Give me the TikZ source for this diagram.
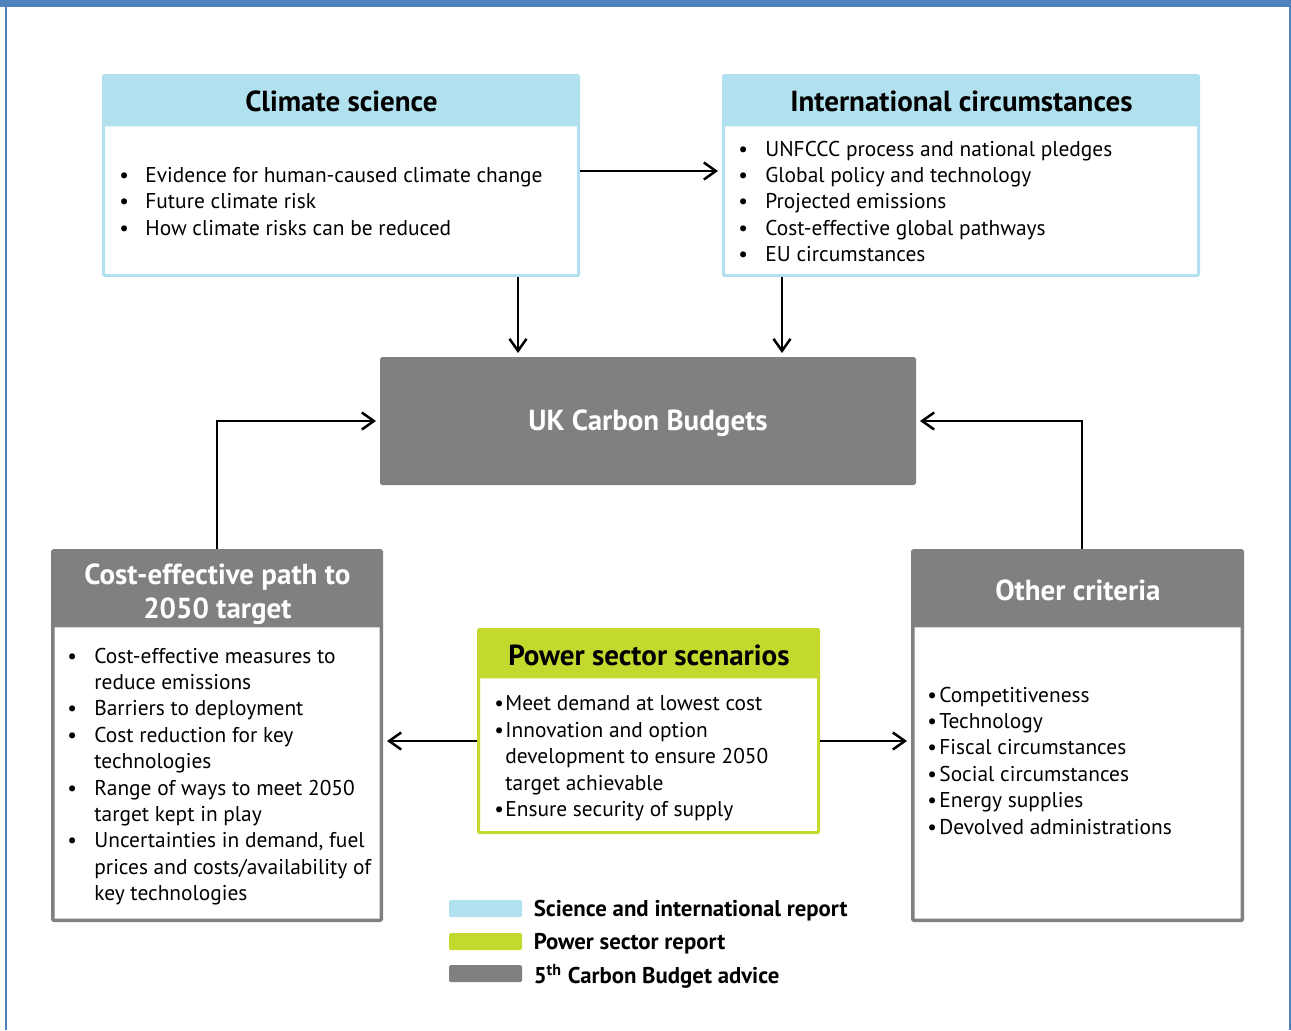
\documentclass[tikz,border=0pt]{standalone}
\usepackage{fontspec}
\setmainfont{PT Sans}
\usetikzlibrary{arrows.meta,positioning}
\definecolor{framebl}{RGB}{79,129,189}
\definecolor{skyb}{RGB}{177,225,238}
\definecolor{limeg}{RGB}{195,217,46}
\definecolor{midg}{RGB}{128,128,130}
\newcommand{\itm}[1]{\makebox[#1][l]{\textbullet}}
\newcommand{\cnt}[1]{\hspace*{#1}}
\begin{document}
\begin{tikzpicture}[x=0.5pt,y=-0.5pt]
\tikzstyle{arr}=[line width=1.25pt,-{Straight Barb[length=6pt,width=8.5pt]},shorten >=2pt]
\tikzstyle{body}=[rectangle,fill=white,line width=1.5pt,rounded corners=0.5pt,inner sep=0,anchor=north west]
\tikzstyle{hdr}=[rectangle,inner sep=0,anchor=north west,rounded corners=0.5pt,font=\fontsize{14.5}{17}\selectfont\bfseries]
\tikzstyle{list}=[inner sep=0,anchor=north west,align=left,font=\fontsize{10.7}{13.2}\selectfont]
\tikzstyle{swatch}=[rectangle,inner sep=0,minimum width=36.5pt,minimum height=8.5pt,rounded corners=0.75pt]
\tikzstyle{legtxt}=[inner sep=0,anchor=west,yshift=-1.2pt,font=\fontsize{11.4}{13}\selectfont\bfseries]
\useasboundingbox (0,0) rectangle (1291,1030);
% frame
\fill[framebl] (0,0) rectangle (1291,7);
\fill[framebl] (4.5,0) rectangle (7,1030);
\fill[framebl] (1288.5,0) rectangle (1291,1030);
% top boxes
\node[body,draw=skyb,minimum width=237.5pt,minimum height=100pt] (cs) at (102,74) {};
\node[hdr,fill=skyb,minimum width=237.5pt,minimum height=25.25pt] (cshdr) at (103.5,75.5) {Climate science};
\node[list] (csl) at (119,167) {\itm{13pt}Evidence for human-caused climate change\\
\itm{13pt}Future climate risk\\
\itm{13pt}How climate risks can be reduced};
\node[body,draw=skyb,minimum width=237.5pt,minimum height=100pt] (ic) at (722,74) {};
\node[hdr,fill=skyb,minimum width=237.5pt,minimum height=25.25pt] (ichdr) at (723.5,75.5) {International circumstances};
\node[list] (icl) at (738,140.5) {\itm{13.5pt}UNFCCC process and national pledges\\
\itm{13.5pt}Global policy and technology\\
\itm{13.5pt}Projected emissions\\
\itm{13.5pt}Cost-effective global pathways\\
\itm{13.5pt}EU circumstances};
% centre box
\node[body,fill=midg,draw=midg,minimum width=266.5pt,minimum height=62.5pt,text=white,font=\fontsize{14.5}{17}\selectfont\bfseries] (ukcb) at (380,357) {\rule{0pt}{12.5pt}UK Carbon Budgets};
% lower boxes
\node[body,draw=midg,line width=1.75pt,minimum width=164.25pt,minimum height=184.75pt] (cost) at (51,549) {};
\node[hdr,fill=midg,text=white,align=center,minimum width=164.25pt,minimum height=38.1pt] (costhdr) at (52.75,550.75) {\rule{0pt}{15.5pt}Cost-effective path to\\2050 target};
\node[list] (costl) at (67,647.5) {\itm{13.5pt}Cost-effective measures to\\
\cnt{13.5pt}reduce emissions\\
\itm{13.5pt}Barriers to deployment\\
\itm{13.5pt}Cost reduction for key\\
\cnt{13.5pt}technologies\\
\itm{13.5pt}Range of ways to meet 2050\\
\cnt{13.5pt}target kept in play\\
\itm{13.5pt}Uncertainties in demand, fuel\\
\cnt{13.5pt}prices and costs/availability of\\
\cnt{13.5pt}key technologies};
\node[body,draw=midg,line width=1.75pt,minimum width=164.75pt,minimum height=184.75pt] (oc) at (911,549) {};
\node[hdr,fill=midg,text=white,minimum width=164.75pt,minimum height=38.1pt] (ochdr) at (912.75,550.75) {\rule{0pt}{11.5pt}Other criteria};
\node[list] (ocl) at (927,686.5) {\itm{6pt}Competitiveness\\
\itm{6pt}Technology\\
\itm{6pt}Fiscal circumstances\\
\itm{6pt}Social circumstances\\
\itm{6pt}Energy supplies\\
\itm{6pt}Devolved administrations};
\node[body,draw=limeg,minimum width=170pt,minimum height=101.5pt] (ps) at (477,628) {};
\node[hdr,fill=limeg,minimum width=170pt,minimum height=24.25pt] (pshdr) at (478.5,629.5) {\rule{0pt}{11.5pt}Power sector scenarios};
\node[list] (psl) at (494,695.5) {\itm{5.5pt}Meet demand at lowest cost\\
\itm{5.5pt}Innovation and option\\
\cnt{5.5pt}development to ensure 2050\\
\cnt{5.5pt}target achievable\\
\itm{5.5pt}Ensure security of supply};
% connectors
\coordinate (d1) at (518,0);
\coordinate (d2) at (782,0);
\draw[arr] ([yshift=2.25pt]cs.east) -- ([yshift=2.25pt]ic.west);
\draw[arr] (cs.south -| d1) -- (ukcb.north -| d1);
\draw[arr] (ic.south -| d2) -- (ukcb.north -| d2);
\draw[arr] (cost.north) |- (ukcb.west);
\draw[arr] ([xshift=2.25pt]oc.north) |- (ukcb.east);
\draw[arr] ([yshift=-5pt]ps.west) -- ([yshift=-5pt]ps.west -| cost.east);
\draw[arr] ([yshift=-5pt]ps.east) -- ([yshift=-5pt]ps.east -| oc.west);
% legend
\node[swatch,fill=skyb] (lg1) at (485.5,908.5) {};
\node[swatch,fill=limeg] (lg2) at (485.5,941.5) {};
\node[swatch,fill=midg] (lg3) at (485.5,973.5) {};
\node[legtxt,right=5.5pt of lg1] (lt1) {Science and international report};
\node[legtxt,right=5.5pt of lg2] (lt2) {Power sector report};
\node[legtxt,right=5.5pt of lg3] (lt3) {5\textsuperscript{th} Carbon Budget advice};
\end{tikzpicture}
\end{document}
